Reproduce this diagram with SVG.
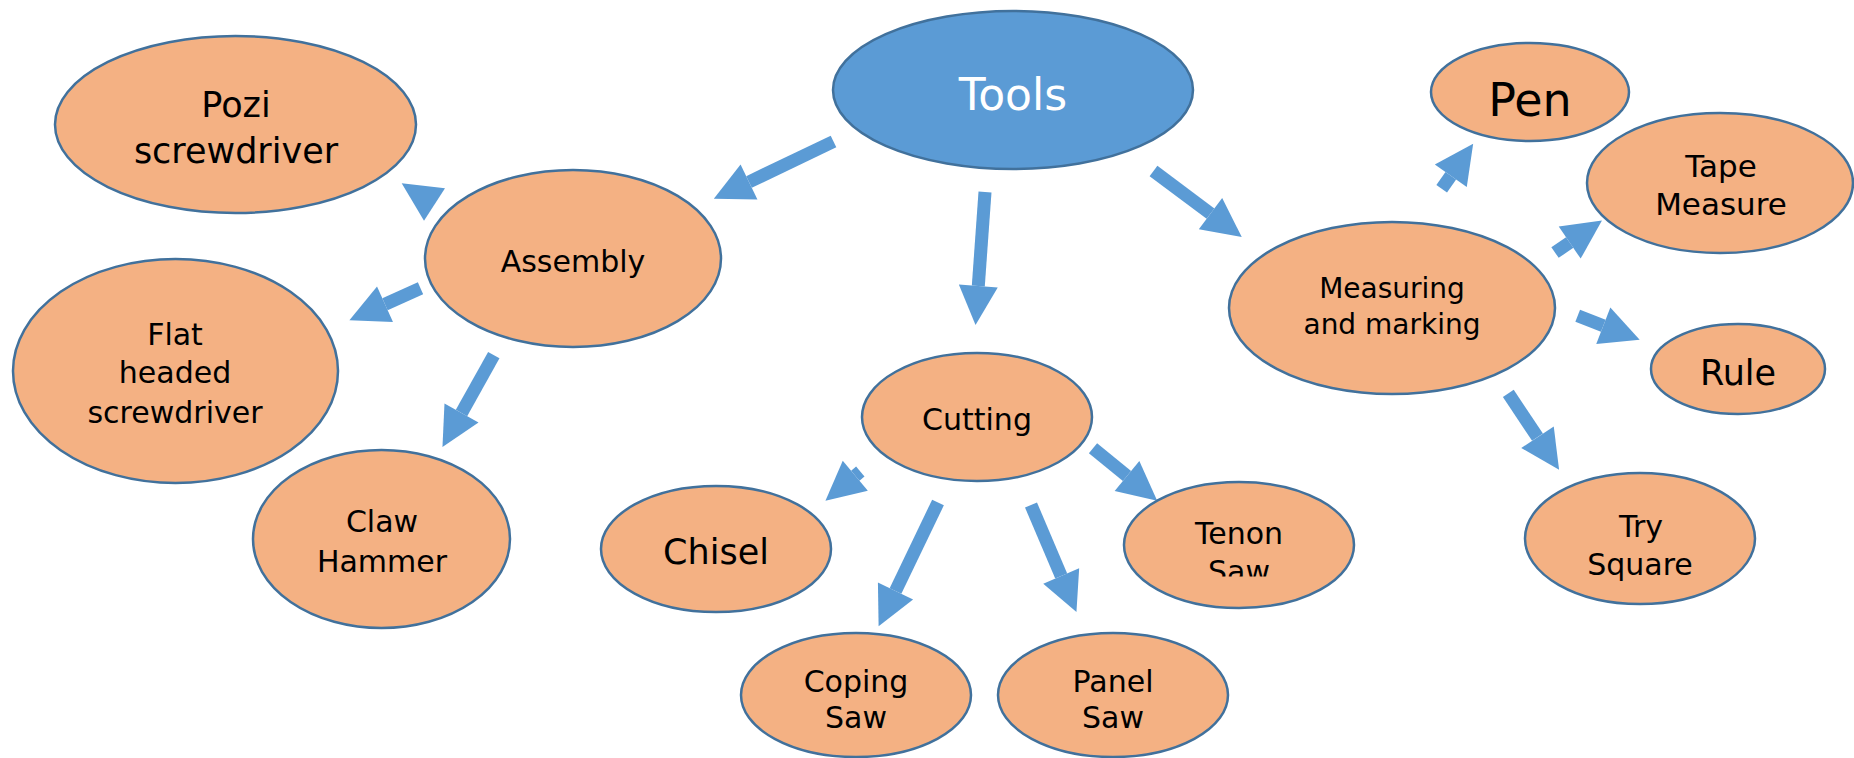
<svg xmlns="http://www.w3.org/2000/svg" width="1854" height="758" viewBox="0 0 1854 758">
<defs>
<style>
.bg{fill:#ffffff}
.n{fill:#F4B183;stroke:#41719C;stroke-width:2.5}
.root{fill:#5B9BD5;stroke:#41719C;stroke-width:2.5}
.t{font-family:"DejaVu Sans",sans-serif;fill:#000;text-anchor:middle}
.tw{font-family:"DejaVu Sans",sans-serif;fill:#fff;text-anchor:middle}
.c{stroke:#5B9BD5;stroke-width:13;fill:none;stroke-linecap:butt}
.h{fill:#5B9BD5}
</style>
<marker id="ah" markerUnits="userSpaceOnUse" markerWidth="40" markerHeight="40" viewBox="0 -20 40 40" refX="0" refY="0" orient="auto" overflow="visible">
<path d="M0,-19.5 L39,0 L0,19.5 Z" fill="#5B9BD5"/>
</marker>
<clipPath id="tenonclip"><rect x="1100" y="480" width="280" height="96.5"/></clipPath>
</defs>
<rect class="bg" x="0" y="0" width="1854" height="758"/>
<g id="connectors">
<line class="c" x1="833.5" y1="141.5" x2="749" y2="182" marker-end="url(#ah)"/>
<line class="c" x1="985" y1="192" x2="978.3" y2="286" marker-end="url(#ah)"/>
<line class="c" x1="1153.5" y1="171" x2="1210.5" y2="213.6" marker-end="url(#ah)"/>
<polygon class="h" points="401.7,183.3 445,188.3 424,220.7"/>
<line class="c" x1="420.5" y1="288.3" x2="385" y2="304.2" marker-end="url(#ah)"/>
<line class="c" x1="493.8" y1="355.2" x2="461.5" y2="413" marker-end="url(#ah)"/>
<line class="c" x1="860.3" y1="471.5" x2="855.3" y2="475.7" marker-end="url(#ah)"/>
<line class="c" x1="938" y1="502.5" x2="895.5" y2="591" marker-end="url(#ah)"/>
<line class="c" x1="1031" y1="505" x2="1061.2" y2="576" marker-end="url(#ah)"/>
<line class="c" x1="1093" y1="448.2" x2="1127" y2="476" marker-end="url(#ah)"/>
<line class="c" x1="1441.7" y1="188.8" x2="1450.8" y2="175.8" marker-end="url(#ah)"/>
<line class="c" x1="1555" y1="252.5" x2="1569.7" y2="242.5" marker-end="url(#ah)"/>
<line class="c" x1="1577.7" y1="315.8" x2="1603.3" y2="325.7" marker-end="url(#ah)"/>
<line class="c" x1="1508.3" y1="393.3" x2="1537.5" y2="437.2" marker-end="url(#ah)"/>
</g>
<g id="tools">
<ellipse class="root" cx="1013" cy="90" rx="180" ry="79"/>
<text class="tw" x="1013" y="110" font-size="44">Tools</text>
</g>
<g id="assembly">
<ellipse class="n" cx="573" cy="258.5" rx="148" ry="88.5"/>
<text class="t" x="573" y="272" font-size="30">Assembly</text>
</g>
<g id="pozi">
<ellipse class="n" cx="235.5" cy="124.5" rx="180.5" ry="88.5"/>
<text class="t" font-size="35"><tspan x="236" y="117">Pozi</tspan><tspan x="236" y="163">screwdriver</tspan></text>
</g>
<g id="flat">
<ellipse class="n" cx="175.5" cy="371" rx="162.5" ry="112"/>
<text class="t" font-size="30"><tspan x="175" y="345">Flat</tspan><tspan x="175" y="383">headed</tspan><tspan x="175" y="423">screwdriver</tspan></text>
</g>
<g id="claw">
<ellipse class="n" cx="381.5" cy="539" rx="128.5" ry="89"/>
<text class="t" font-size="30"><tspan x="382" y="532">Claw</tspan><tspan x="382" y="572">Hammer</tspan></text>
</g>
<g id="cutting">
<ellipse class="n" cx="977" cy="417" rx="115" ry="64"/>
<text class="t" x="977" y="430" font-size="30">Cutting</text>
</g>
<g id="chisel">
<ellipse class="n" cx="716" cy="549" rx="115" ry="63"/>
<text class="t" x="716" y="564" font-size="35">Chisel</text>
</g>
<g id="coping">
<ellipse class="n" cx="856" cy="695" rx="115" ry="62"/>
<text class="t" font-size="30"><tspan x="856" y="692">Coping</tspan><tspan x="856" y="728">Saw</tspan></text>
</g>
<g id="panel">
<ellipse class="n" cx="1113" cy="695" rx="115" ry="62"/>
<text class="t" font-size="30"><tspan x="1113" y="692">Panel</tspan><tspan x="1113" y="728">Saw</tspan></text>
</g>
<g id="tenon">
<ellipse class="n" cx="1239" cy="545" rx="115" ry="63"/>
<text class="t" font-size="30" clip-path="url(#tenonclip)"><tspan x="1239" y="544">Tenon</tspan><tspan x="1239" y="582">Saw</tspan></text>
</g>
<g id="measuring">
<ellipse class="n" cx="1392" cy="308" rx="163" ry="86"/>
<text class="t" font-size="28"><tspan x="1392" y="298">Measuring</tspan><tspan x="1392" y="334">and marking</tspan></text>
</g>
<g id="pen">
<ellipse class="n" cx="1530" cy="92" rx="99" ry="49"/>
<text class="t" x="1530" y="116" font-size="46">Pen</text>
</g>
<g id="tape">
<ellipse class="n" cx="1720" cy="183" rx="133" ry="70"/>
<text class="t" font-size="31"><tspan x="1721" y="177">Tape</tspan><tspan x="1721" y="215">Measure</tspan></text>
</g>
<g id="rule">
<ellipse class="n" cx="1738" cy="369" rx="87" ry="45"/>
<text class="t" x="1738" y="385" font-size="35">Rule</text>
</g>
<g id="try">
<ellipse class="n" cx="1640" cy="538.5" rx="115" ry="65.5"/>
<text class="t" font-size="30"><tspan x="1641" y="537">Try</tspan><tspan x="1640" y="575">Square</tspan></text>
</g>
</svg>
